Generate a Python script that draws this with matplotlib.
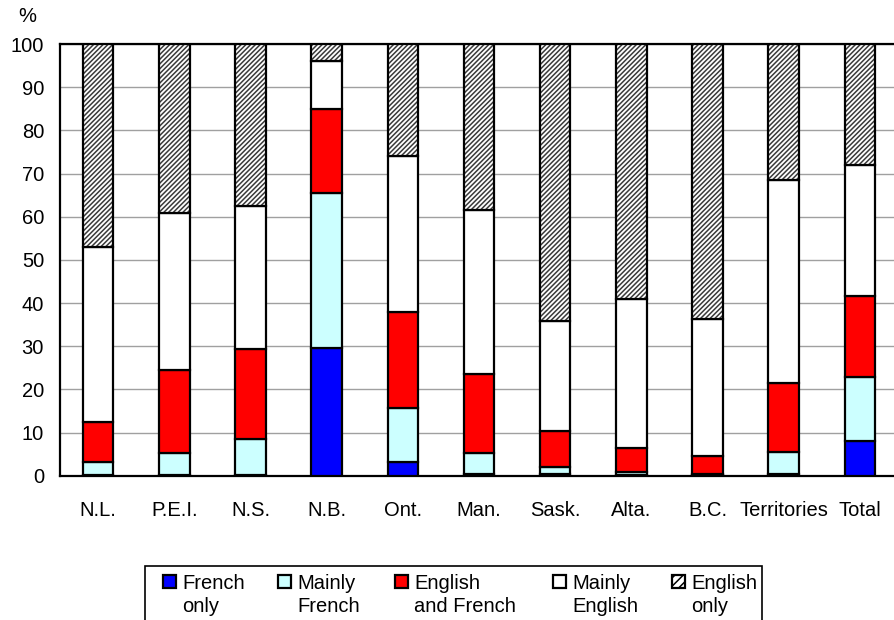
import matplotlib
matplotlib.use("Agg")
import matplotlib.pyplot as plt
from matplotlib.patches import Rectangle
import numpy as np

plt.rcParams['font.family'] = ['Liberation Sans', 'DejaVu Sans']
plt.rcParams['hatch.linewidth'] = 1.1

regions = ["N.L.", "P.E.I.", "N.S.", "N.B.", "Ont.", "Man.", "Sask.", "Alta.",
           "B.C.", "Territories", "Total"]
french_only = [0.1, 0.1, 0.2, 29.5, 3.2, 0.3, 0.4, 0.2, 0.1, 0.5, 8.0]
mainly_french = [3.1, 5.1, 8.2, 36.0, 12.4, 4.9, 1.5, 0.6, 0.3, 5.1, 14.9]
english_french = [9.3, 19.4, 20.9, 19.5, 22.4, 18.4, 8.5, 5.7, 4.2, 15.8, 18.7]
mainly_english = [40.5, 36.3, 33.2, 11.1, 36.1, 37.9, 25.4, 34.4, 31.6, 47.2, 30.3]
english_only = [47.0, 39.1, 37.5, 3.9, 25.9, 38.5, 64.2, 59.1, 63.8, 31.4, 28.1]

labels = ["French\nonly", "Mainly\nFrench", "English\nand French",
          "Mainly\nEnglish", "English\nonly"]
colors = ["#0000ff", "#ccffff", "#ff0000", "#ffffff", "#ffffff"]
hatches = [None, None, None, None, "///////"]

W, H = 894, 620
fig = plt.figure(figsize=(W / 100, H / 100), dpi=100)
ax = fig.add_axes([60 / W, 1 - 475.7 / H, 838 / W, 431.7 / H])

x = np.arange(len(regions))
w = 0.4
series = [french_only, mainly_french, english_french, mainly_english, english_only]
bottom = np.zeros(len(regions))
for vals, c, h in zip(series, colors, hatches):
    vals = np.array(vals)
    if h:
        # grey hatching first, black outline on top
        ax.bar(x, vals, w, bottom=bottom, color="white", edgecolor="#3a3a3a",
               hatch=h, linewidth=0, zorder=3)
        ax.bar(x, vals, w, bottom=bottom, fill=False, edgecolor="black",
               linewidth=1.6, zorder=4)
    else:
        ax.bar(x, vals, w, bottom=bottom, color=c, edgecolor="black",
               linewidth=1.6, zorder=3)
    bottom += vals

ax.set_xlim(-0.5, len(regions) - 0.5)
ax.set_ylim(0, 100)
ax.set_yticks(range(0, 101, 10))
ax.set_xticks(x)
ax.set_xticklabels(regions)
ax.tick_params(axis="both", labelsize=14.5, length=0)
ax.tick_params(axis="x", pad=18.5)
ax.tick_params(axis="y", pad=11.5)
ax.yaxis.grid(True, color="#a0a0a0", linewidth=1, zorder=0)
ax.set_axisbelow(True)
for s in ax.spines.values():
    s.set_linewidth(1.6)
    s.set_color("black")

fig.text(27 / W, 1 - 17 / H, "%", fontsize=14.5, ha="center", va="center")

# legend box at the bottom, built by hand so the swatch sits by the first line
fig.patches.append(Rectangle((145 / W, -0.05), (762 - 145) / W, 0.05 + 1 - 566 / H,
                             transform=fig.transFigure, facecolor="white",
                             edgecolor="black", linewidth=1.2))
handle_x = [163, 278, 395, 553, 672]
for hx, lab, c, h in zip(handle_x, labels, colors, hatches):
    fig.patches.append(Rectangle((hx / W, 1 - 588 / H), 13 / W, 13 / H,
                                 transform=fig.transFigure, facecolor=c,
                                 edgecolor="black", linewidth=1.6, hatch=h and "////"))
    fig.text((hx + 19) / W, 1 - 574 / H, lab, fontsize=14.5, ha="left", va="top",
             linespacing=1.3)

fig.savefig("out.png", dpi=100)
